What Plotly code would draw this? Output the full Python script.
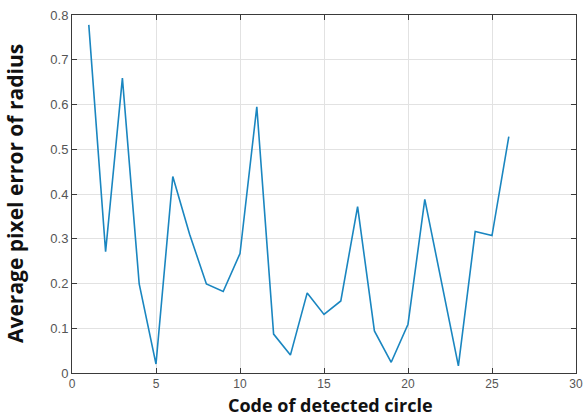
import plotly.graph_objects as go

codes = list(range(1, 27))
errors = [0.778, 0.271, 0.659, 0.199, 0.020, 0.439, 0.310, 0.199, 0.182, 0.267,
          0.595, 0.087, 0.040, 0.179, 0.131, 0.161, 0.372, 0.094, 0.024, 0.109,
          0.388, 0.200, 0.016, 0.316, 0.307, 0.528]

x_ticks = [0, 5, 10, 15, 20, 25, 30]
y_ticks = [0, 0.1, 0.2, 0.3, 0.4, 0.5, 0.6, 0.7, 0.8]

fig = go.Figure()
fig.add_trace(go.Scatter(x=codes, y=errors, mode="lines",
                         line=dict(color="#1a86c0", width=1.6)))

axis_common = dict(
    showline=True, linecolor="#3a3a3a", linewidth=1, mirror="allticks",
    ticks="inside", ticklen=5, tickcolor="#3a3a3a",
    showgrid=True, gridcolor="#e2e2e2", gridwidth=1, zeroline=False,
    automargin=False,
)

fig.update_layout(
    width=587, height=418,
    margin=dict(l=72, r=11, t=15, b=45),
    paper_bgcolor="white", plot_bgcolor="white",
    showlegend=False,
    xaxis=dict(range=[0, 30], tickvals=x_ticks, ticktext=[str(v) for v in x_ticks],
               tickfont=dict(family="Liberation Sans, Arial", size=12, color="#555555"),
               **axis_common),
    yaxis=dict(range=[0, 0.8], tickvals=y_ticks, ticktext=[f"{v:g}" for v in y_ticks],
               tickfont=dict(family="Liberation Sans, Arial", size=13, color="#555555"),
               **axis_common),
    annotations=[
        dict(text="<b>Code of detected circle</b>", xref="paper", yref="paper",
             x=0.513, y=-45 / 358, xanchor="center", yanchor="bottom",
             showarrow=False, borderpad=0,
             font=dict(family="Open Sans", size=18, color="#111111")),
        dict(text="<b>Average pixel error of radius</b>", xref="paper", yref="paper",
             x=0, xshift=-57, y=0.5, xanchor="center", yanchor="middle",
             textangle=-90, showarrow=False,
             font=dict(family="Open Sans", size=21, color="#111111")),
    ],
)

fig.write_html("out.html", config={"displayModeBar": False},
               post_script="document.body.style.margin='0';document.body.style.overflow='hidden';")
